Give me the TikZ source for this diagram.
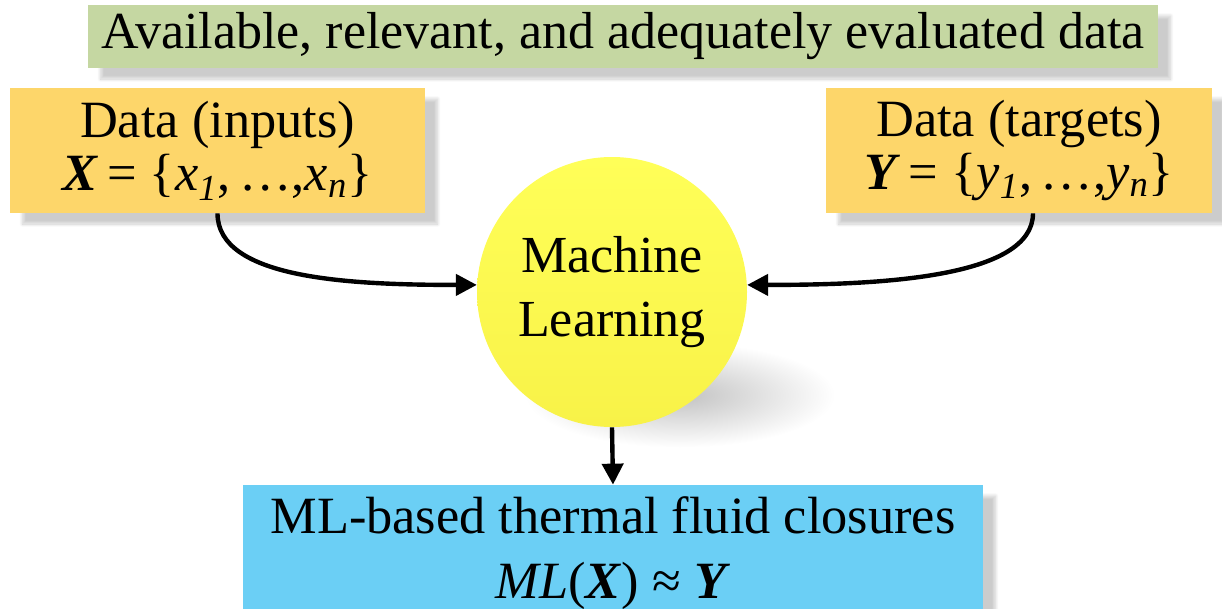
\documentclass[tikz,border=0pt]{standalone}
\usepackage{fontspec}
\setmainfont{Liberation Serif}
\usepackage{tikz}
\usetikzlibrary{arrows.meta,shadows.blur}
\definecolor{datagreen}{RGB}{197,215,162}
\definecolor{datayellow}{RGB}{253,214,106}
\definecolor{mltop}{RGB}{255,255,88}
\definecolor{mlbottom}{RGB}{248,242,72}
\definecolor{closureblue}{RGB}{107,207,245}
\tikzset{soft shadow/.style={blur shadow={shadow xshift=0.25cm,shadow yshift=-0.22cm,shadow opacity=20,shadow blur steps=12}}}
\tikzset{data box/.style={rectangle,fill=datayellow,minimum height=2.5cm,inner sep=0pt,align=center,font=\fontsize{29.8}{30.5}\selectfont,soft shadow}}
\tikzset{flow arrow/.style={line width=2.5pt,-{Triangle[length=0.42cm,width=0.42cm]}}}

\begin{document}
\begin{tikzpicture}
        \clip (0,0) rectangle (24.44,-12.18);

        \node (avail)	[rectangle,fill=datagreen,minimum width=21.4cm,minimum height=1.26cm,inner sep=0pt,font=\fontsize{29.6}{30}\selectfont,soft shadow] at (12.46,-0.73) {Available, relevant, and adequately evaluated data};
        \node (inputs)	[data box,minimum width=8.3cm] at (4.35,-3.01) {Data (inputs)\\\textbf{\textit{X}}\,= \{\textit{x}\textsubscript{\textit{1}},\,…,\textit{x}\textsubscript{\textit{n}}\}};
        \node (targets)	[data box,minimum width=7.72cm] at (20.38,-3.01) {Data (targets)\\\textbf{\textit{Y}}\,= \{\textit{y}\textsubscript{\textit{1}},\,…,\textit{y}\textsubscript{\textit{n}}\}};

        \shade [inner color=black!24,outer color=white] (13.6,-7.9) ellipse (3.1 and 1.05);
        \node (ml)	[circle,top color=mltop,bottom color=mlbottom,minimum size=5.4cm,inner sep=0pt,align=center,font=\fontsize{29.6}{36}\selectfont] at (12.24,-5.84) {Machine\\Learning};

        \node (closures)	[rectangle,fill=closureblue,minimum width=14.8cm,minimum height=2.74cm,inner sep=0pt,align=center,font=\fontsize{29.8}{37}\selectfont,soft shadow] at (12.26,-11.07) {ML-based thermal fluid closures\\\textit{ML}(\textbf{\textit{X}}) ≈ \textbf{\textit{Y}}};

        \draw [flow arrow] (inputs.south) to [out=-90,in=180,out distance=1.3cm,in distance=2.6cm] (ml.177);
        \draw [flow arrow] ([xshift=0.28cm]targets.south) to [out=-90,in=0,out distance=1.3cm,in distance=2.6cm] (ml.3);
        \draw [flow arrow] (ml.south) -- (closures.north);
\end{tikzpicture}
\end{document}
